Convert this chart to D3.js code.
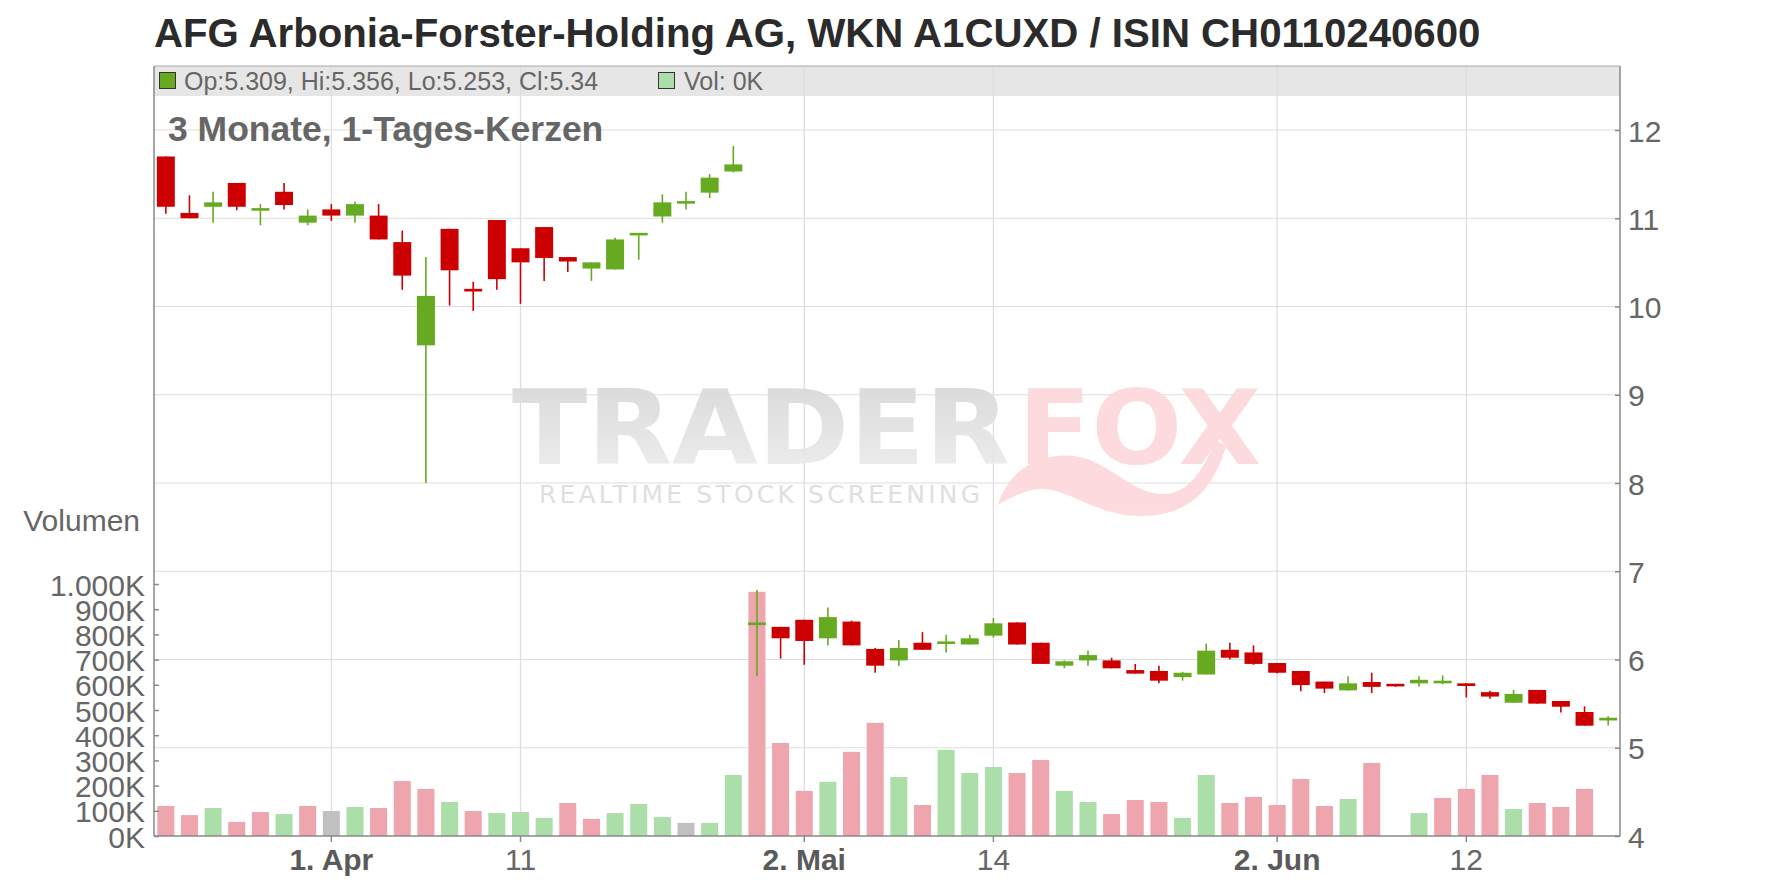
<!DOCTYPE html>
<html>
<head>
<meta charset="utf-8">
<script src="https://cdn.jsdelivr.net/npm/d3@7"></script>
<style>
  html, body { margin: 0; padding: 0; background: #fff; }
  svg { display: block; font-family: "Liberation Sans", Arial, sans-serif; }
</style>
</head>
<body>
<svg id="chart" width="1776" height="888"></svg>
<script>
// ---------------- DATA ----------------
const dates = [
  "2025-03-21","2025-03-24","2025-03-25","2025-03-26","2025-03-27","2025-03-28","2025-03-31",
  "2025-04-01","2025-04-02","2025-04-03","2025-04-04","2025-04-07","2025-04-08","2025-04-09","2025-04-10","2025-04-11",
  "2025-04-14","2025-04-15","2025-04-16","2025-04-17","2025-04-22","2025-04-23","2025-04-24","2025-04-25",
  "2025-04-28","2025-04-29","2025-04-30","2025-05-02","2025-05-05","2025-05-06","2025-05-07","2025-05-08","2025-05-09",
  "2025-05-12","2025-05-13","2025-05-14","2025-05-15","2025-05-16","2025-05-19","2025-05-20","2025-05-21","2025-05-22","2025-05-23",
  "2025-05-26","2025-05-27","2025-05-28","2025-05-30","2025-06-02","2025-06-03","2025-06-04","2025-06-05","2025-06-06",
  "2025-06-09","2025-06-10","2025-06-11","2025-06-12","2025-06-13","2025-06-16","2025-06-17","2025-06-18","2025-06-19","2025-06-20"
];
const openPrices = [
  11.70,11.06,11.13,11.40,11.10,11.30,10.95,11.10,11.03,11.03,10.73,9.56,10.88,10.20,10.98,10.66,
  10.90,10.56,10.43,10.42,10.82,11.02,11.18,11.29,11.53,6.39,6.37,6.45,6.24,6.43,6.12,5.99,6.19,
  6.19,6.17,6.27,6.42,6.19,5.93,5.99,5.99,5.88,5.87,5.80,5.83,6.11,6.08,5.96,5.87,5.75,5.65,5.745,
  5.72,5.73,5.73,5.73,5.63,5.51,5.655,5.53,5.405,5.309
];
const highPrices = [
  11.70,11.26,11.30,11.40,11.16,11.40,11.10,11.16,11.19,11.16,10.86,10.56,10.88,10.28,10.98,10.66,
  10.90,10.56,10.50,10.78,10.82,11.27,11.30,11.50,11.82,6.79,6.37,6.45,6.59,6.44,6.13,6.22,6.31,
  6.28,6.28,6.47,6.42,6.19,5.99,6.10,6.02,5.95,5.93,5.86,6.18,6.19,6.16,5.96,5.87,5.75,5.81,5.85,
  5.72,5.81,5.82,5.73,5.645,5.655,5.655,5.53,5.47,5.356
];
const lowPrices = [
  11.05,11.00,10.95,11.09,10.92,11.10,10.92,10.97,10.95,10.76,10.19,8.00,10.01,9.95,10.19,10.03,
  10.29,10.39,10.29,10.42,10.53,10.95,11.10,11.23,11.52,5.81,6.01,5.94,6.16,6.16,5.85,5.93,6.11,
  6.08,6.17,6.25,6.17,5.95,5.90,5.93,5.90,5.84,5.73,5.76,5.83,6.00,5.94,5.84,5.64,5.62,5.65,5.62,
  5.69,5.69,5.72,5.57,5.555,5.51,5.50,5.40,5.25,5.253
];
const closePrices = [
  11.13,11.00,11.18,11.13,11.10,11.15,11.03,11.03,11.16,10.76,10.35,10.12,10.41,10.17,10.31,10.50,
  10.55,10.51,10.50,10.76,10.82,11.18,11.18,11.46,11.61,6.42,6.24,6.21,6.48,6.16,5.93,6.13,6.11,
  6.19,6.24,6.41,6.17,5.95,5.98,6.05,5.90,5.84,5.76,5.85,6.10,6.02,5.95,5.85,5.71,5.67,5.73,5.69,
  5.70,5.77,5.76,5.70,5.58,5.61,5.50,5.465,5.25,5.34
];
const volumes = [
  119000,83000,111000,56000,95000,87000,119000,99000,115000,111000,218000,187000,135000,99000,91000,95000,
  72000,131000,68000,91000,127000,75000,52000,52000,242000,969000,369000,179000,215000,334000,449000,234000,123000,
  342000,250000,274000,250000,302000,179000,135000,87000,143000,135000,72000,242000,131000,155000,123000,226000,119000,147000,290000,
  0,91000,151000,187000,242000,107000,131000,115000,187000,0
];
const xTickDates  = ["2025-04-01","2025-04-11","2025-05-02","2025-05-14","2025-06-02","2025-06-12"];
const xTickLabels = ["1. Apr","11","2. Mai","14","2. Jun","12"];
const xTickBold   = [true,false,true,false,true,false];
const priceTicks  = [4,5,6,7,8,9,10,11,12];
const volTicks    = [0,100000,200000,300000,400000,500000,600000,700000,800000,900000,1000000];
const volTickLabels = ["0K","100K","200K","300K","400K","500K","600K","700K","800K","900K","1.000K"];
const titleText = "AFG Arbonia-Forster-Holding AG, WKN A1CUXD / ISIN CH0110240600";
const subtitleText = "3 Monate, 1-Tages-Kerzen";
const legendOHLC = "Op:5.309, Hi:5.356, Lo:5.253, Cl:5.34";
const legendVol = "Vol: 0K";

// ---------------- LAYOUT ----------------
const L = 154, R = 1620, T = 66, B = 836;
const C_UP = "#66aa22", C_DN = "#cc0000";
const V_UP = "#acdea9", V_DN = "#eea5ad", V_EQ = "#c0c0c0";
const AX = "#888888", GRID = "#dddddd", TXT = "#666666";

const svg = d3.select("#chart");

const x = d3.scaleBand().domain(dates).range([L, R]).padding(0);
const yP = d3.scaleLinear().domain([4, 12]).range([B, 130]);
const yV = d3.scaleLinear().domain([0, 1000000]).range([B, 584]);

const data = dates.map((d, i) => ({
  d, o: openPrices[i], h: highPrices[i], l: lowPrices[i], c: closePrices[i], v: volumes[i],
  pc: i > 0 ? closePrices[i - 1] : openPrices[i]
}));

// title
svg.append("text").attr("x", 154).attr("y", 47)
  .attr("font-size", 40.2).attr("font-weight", "bold").attr("fill", "#2b2b2b")
  .text(titleText);

// legend strip
svg.append("rect").attr("x", L).attr("y", T).attr("width", R - L).attr("height", 30).attr("fill", "#e6e6e6");

// gridlines horizontal
svg.append("g").selectAll("line").data(priceTicks.filter(t => t > 4)).join("line")
  .attr("x1", L).attr("x2", R).attr("y1", d => yP(d)).attr("y2", d => yP(d))
  .attr("stroke", GRID).attr("stroke-width", 1.2);
// gridlines vertical
svg.append("g").selectAll("line").data(xTickDates).join("line")
  .attr("x1", d => x(d) + x.bandwidth() / 2).attr("x2", d => x(d) + x.bandwidth() / 2)
  .attr("y1", T).attr("y2", B)
  .attr("stroke", GRID).attr("stroke-width", 1.2);

// watermark
const defs = svg.append("defs");
const grad = defs.append("linearGradient").attr("id", "wmg").attr("x1", 0).attr("y1", 0).attr("x2", 0).attr("y2", 1);
grad.append("stop").attr("offset", "0%").attr("stop-color", "#d6d6d6");
grad.append("stop").attr("offset", "100%").attr("stop-color", "#efefef");
const wm = svg.append("g").attr("opacity", 0.95);
wm.append("text").attr("x", 512).attr("y", 464).attr("font-family", "DejaVu Sans")
  .attr("font-weight", "bold").attr("font-size", 104).attr("textLength", 498)
  .attr("lengthAdjust", "spacingAndGlyphs").attr("fill", "url(#wmg)").text("TRADER");
wm.append("text").attr("x", 1018).attr("y", 464).attr("font-family", "DejaVu Sans")
  .attr("font-weight", "bold").attr("font-size", 104).attr("textLength", 243)
  .attr("lengthAdjust", "spacingAndGlyphs").attr("fill", "#fdd9dd").text("FOX");
wm.append("path")
  .attr("d", "M998,505 C1008,470 1040,452 1075,456 C1110,462 1130,492 1160,494 C1188,496 1203,470 1216,440 L1226,446 C1212,492 1188,516 1140,516 C1092,516 1062,482 1032,490 C1016,494 1006,500 998,505 Z")
  .attr("fill", "#fdd9dd");
wm.append("text").attr("x", 539).attr("y", 503).attr("font-family", "DejaVu Sans")
  .attr("font-size", 25).attr("textLength", 441).attr("lengthAdjust", "spacing")
  .attr("fill", "#dedede").text("REALTIME STOCK SCREENING");

// volume bars
const vw = x.bandwidth() * 0.72;
svg.append("g").selectAll("rect").data(data.filter(d => d.v > 0)).join("rect")
  .attr("x", d => x(d.d) + (x.bandwidth() - vw) / 2)
  .attr("width", vw)
  .attr("y", d => yV(d.v))
  .attr("height", d => B - yV(d.v))
  .attr("fill", d => d.c > d.pc ? V_UP : (d.c < d.pc ? V_DN : V_EQ));

// candles
const cw = x.bandwidth() * 0.76;
const cg = svg.append("g").selectAll("g").data(data).join("g");
cg.append("line")
  .attr("x1", d => x(d.d) + x.bandwidth() / 2).attr("x2", d => x(d.d) + x.bandwidth() / 2)
  .attr("y1", d => yP(d.h)).attr("y2", d => yP(d.l))
  .attr("stroke", d => d.c >= d.o ? C_UP : C_DN).attr("stroke-width", 1.6);
cg.append("rect")
  .attr("x", d => x(d.d) + (x.bandwidth() - cw) / 2)
  .attr("width", cw)
  .attr("y", d => {
    const top = yP(Math.max(d.o, d.c)), bot = yP(Math.min(d.o, d.c));
    return bot - top < 2.6 ? (top + bot) / 2 - 1.3 : top;
  })
  .attr("height", d => Math.max(2.6, yP(Math.min(d.o, d.c)) - yP(Math.max(d.o, d.c))))
  .attr("fill", d => d.c >= d.o ? C_UP : C_DN);

// axis lines and top border
svg.append("line").attr("x1", L).attr("x2", R).attr("y1", T).attr("y2", T).attr("stroke", "#aaaaaa").attr("stroke-width", 1);
svg.append("line").attr("x1", L).attr("x2", L).attr("y1", T).attr("y2", B).attr("stroke", AX).attr("stroke-width", 1.5);
svg.append("line").attr("x1", R).attr("x2", R).attr("y1", T).attr("y2", B).attr("stroke", AX).attr("stroke-width", 1.5);
svg.append("line").attr("x1", L).attr("x2", R).attr("y1", B).attr("y2", B).attr("stroke", AX).attr("stroke-width", 1.5);

function styleAxis(g) {
  g.select(".domain").remove();
  g.selectAll(".tick line").attr("stroke", AX).attr("stroke-width", 1.5);
  g.selectAll(".tick text").attr("fill", TXT).attr("font-size", 30)
    .attr("font-family", "'Liberation Sans', Arial, sans-serif");
}

// right price axis
svg.append("g").attr("transform", `translate(${R},0)`)
  .call(d3.axisRight(yP).tickValues(priceTicks).tickFormat(d3.format("d"))
    .tickSizeInner(-5).tickSizeOuter(0).tickPadding(8))
  .call(styleAxis)
  .call(g => g.selectAll(".tick text").attr("dy", "0.37em"));

// left volume axis
svg.append("g").attr("transform", `translate(${L},0)`)
  .call(d3.axisLeft(yV).tickValues(volTicks).tickFormat((d, i) => volTickLabels[i])
    .tickSizeInner(-5).tickSizeOuter(0).tickPadding(9))
  .call(styleAxis)
  .call(g => g.selectAll(".tick text").attr("dy", "0.37em"));

// bottom axis
svg.append("g").attr("transform", `translate(0,${B})`)
  .call(d3.axisBottom(x).tickValues(xTickDates).tickFormat((d, i) => xTickLabels[i])
    .tickSizeInner(6).tickSizeOuter(0).tickPadding(7))
  .call(styleAxis)
  .call(g => g.selectAll(".tick text").attr("font-weight", (d, i) => xTickBold[i] ? "bold" : "normal")
    .attr("fill", (d, i) => xTickBold[i] ? "#5a5a5a" : TXT));

// "Volumen" label
svg.append("text").attr("x", 140).attr("y", 531).attr("text-anchor", "end")
  .attr("font-size", 30).attr("fill", TXT).text("Volumen");

// subtitle
svg.append("text").attr("x", 168).attr("y", 141)
  .attr("font-size", 35.5).attr("font-weight", "bold").attr("fill", TXT).text(subtitleText);

// legend
svg.append("rect").attr("x", 159.5).attr("y", 72.5).attr("width", 16).attr("height", 16)
  .attr("fill", C_UP).attr("stroke", "#333").attr("stroke-width", 1);
svg.append("text").attr("x", 184).attr("y", 90).attr("font-size", 25).attr("fill", TXT).text(legendOHLC);
svg.append("rect").attr("x", 658.5).attr("y", 72.5).attr("width", 16).attr("height", 16)
  .attr("fill", V_UP).attr("stroke", "#333").attr("stroke-width", 1);
svg.append("text").attr("x", 684).attr("y", 90).attr("font-size", 25).attr("fill", TXT).text(legendVol);
</script>
</body>
</html>
